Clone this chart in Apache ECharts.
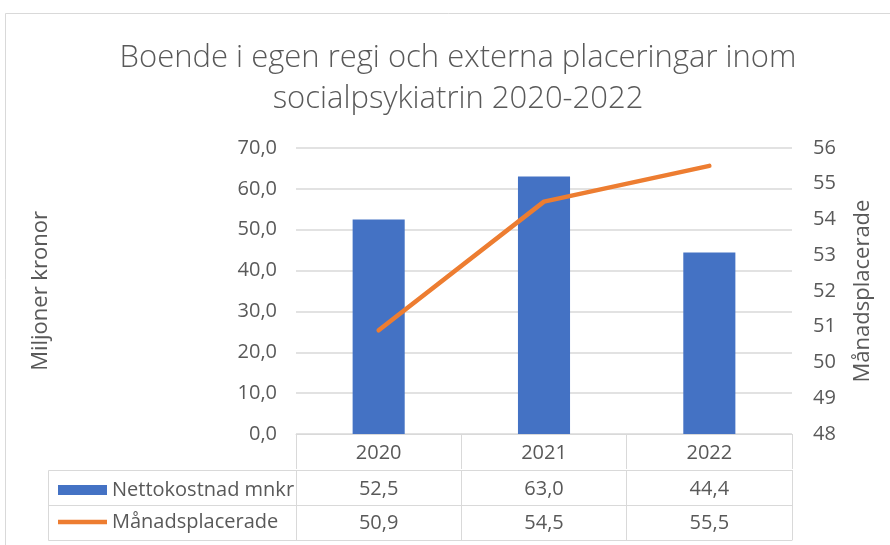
<!DOCTYPE html>
<html><head><meta charset="utf-8">
<script src="https://cdn.jsdelivr.net/npm/echarts@6/dist/echarts.min.js"></script>
<style>html,body{margin:0;padding:0;background:#fff}#c{width:890px;height:545px}</style>
</head><body><div id="c"></div>
<script>
const years = ['2020', '2021', '2022'];
const nettokostnad = [52.5, 63.0, 44.4];
const manadsplacerade = [50.9, 54.5, 55.5];
const leftTicks = {min: 0, max: 70, interval: 10};
const rightTicks = {min: 48, max: 56, interval: 1};
const seriesNames = ['Nettokostnad mnkr', 'Månadsplacerade'];
const titleText = 'Boende i egen regi och externa placeringar inom\nsocialpsykiatrin 2020-2022';

const FONT = '"Open Sans", sans-serif';
const TXT = '#595959';
const GRID = '#d9d9d9';
const FS = 20;
const fmt1 = v => v.toFixed(1).replace('.', ',');

const chart = echarts.init(document.getElementById('c'), null, {renderer: 'canvas'});
const tableAxis = (data, offset, margin) => ({
  type: 'category', data: data, gridIndex: 0, position: 'bottom', offset: offset,
  axisLine: {show: true, lineStyle: {color: GRID, width: 1}},
  axisTick: {show: true, length: 35, lineStyle: {color: GRID}},
  axisLabel: {show: true, margin: margin, color: TXT, fontSize: FS, fontFamily: FONT},
  splitLine: {show: false}
});
chart.setOption({
  backgroundColor: '#fff',
  animation: false,
  textStyle: {fontFamily: FONT},
  title: {
    text: titleText, left: 458, textAlign: 'center', top: 38, padding: 0,
    textStyle: {fontSize: 31, fontWeight: 300, color: TXT, fontFamily: FONT, lineHeight: 41}
  },
  legend: {
    orient: 'vertical', left: 58, top: 480, padding: 0, itemGap: 12, itemWidth: 49, itemHeight: 10,
    textStyle: {color: TXT, fontSize: FS, fontFamily: FONT},
    data: [
      {name: seriesNames[0], icon: 'rect'},
      {name: seriesNames[1], icon: 'path://M0,0H50V4.5H0Z', itemStyle: {color: '#ED7D31'}}
    ],
    selectedMode: false
  },
  grid: {left: 296, right: 98, top: 148, bottom: 111},
  xAxis: [
    tableAxis(years, 0, 9),
    tableAxis(nettokostnad.map(fmt1), 36, 9),
    tableAxis(manadsplacerade.map(fmt1), 71, 8),
    {type: 'category', data: years, gridIndex: 0, position: 'bottom', offset: 106,
     axisLine: {show: true, lineStyle: {color: GRID}}, axisTick: {show: false}, axisLabel: {show: false}}
  ],
  yAxis: [
    {type: 'value', min: leftTicks.min, max: leftTicks.max, interval: leftTicks.interval,
     name: 'Miljoner kronor', nameLocation: 'middle', nameRotate: 90, nameGap: 244,
     nameTextStyle: {color: TXT, fontSize: 22, fontFamily: FONT},
     axisLine: {show: false}, axisTick: {show: false},
     axisLabel: {formatter: v => fmt1(v), color: TXT, fontSize: FS, margin: 19, fontFamily: FONT},
     splitLine: {lineStyle: {color: GRID, width: 1.5}}},
    {type: 'value', min: rightTicks.min, max: rightTicks.max, interval: rightTicks.interval,
     name: 'Månadsplacerade', nameLocation: 'middle', nameRotate: 90, nameGap: 60,
     nameTextStyle: {color: TXT, fontSize: 22, fontFamily: FONT},
     axisLine: {show: false}, axisTick: {show: false},
     axisLabel: {color: TXT, fontSize: FS, margin: 21, fontFamily: FONT},
     splitLine: {show: false}}
  ],
  series: [
    {name: seriesNames[0], type: 'bar', data: nettokostnad, xAxisIndex: 0, yAxisIndex: 0,
     barWidth: '31.5%', itemStyle: {color: '#4472C4'}},
    {name: seriesNames[1], type: 'line', data: manadsplacerade, xAxisIndex: 0, yAxisIndex: 1,
     symbol: 'none', showSymbol: false,
     lineStyle: {color: '#ED7D31', width: 4.5, cap: 'round'}, itemStyle: {color: '#ED7D31'}}
  ],
  graphic: [
    {type: 'rect', shape: {x: 5.5, y: 13.5, width: 1000, height: 1000}, style: {fill: 'none', stroke: GRID, lineWidth: 1}, silent: true, z: -1},
    {type: 'polyline', shape: {points: [[296, 470.5], [48.5, 470.5], [48.5, 540.5], [296, 540.5]]}, style: {fill: 'none', stroke: GRID, lineWidth: 1}, silent: true},
    {type: 'line', shape: {x1: 48.5, y1: 505.5, x2: 296, y2: 505.5}, style: {stroke: GRID, lineWidth: 1}, silent: true}
  ]
});
</script></body></html>
